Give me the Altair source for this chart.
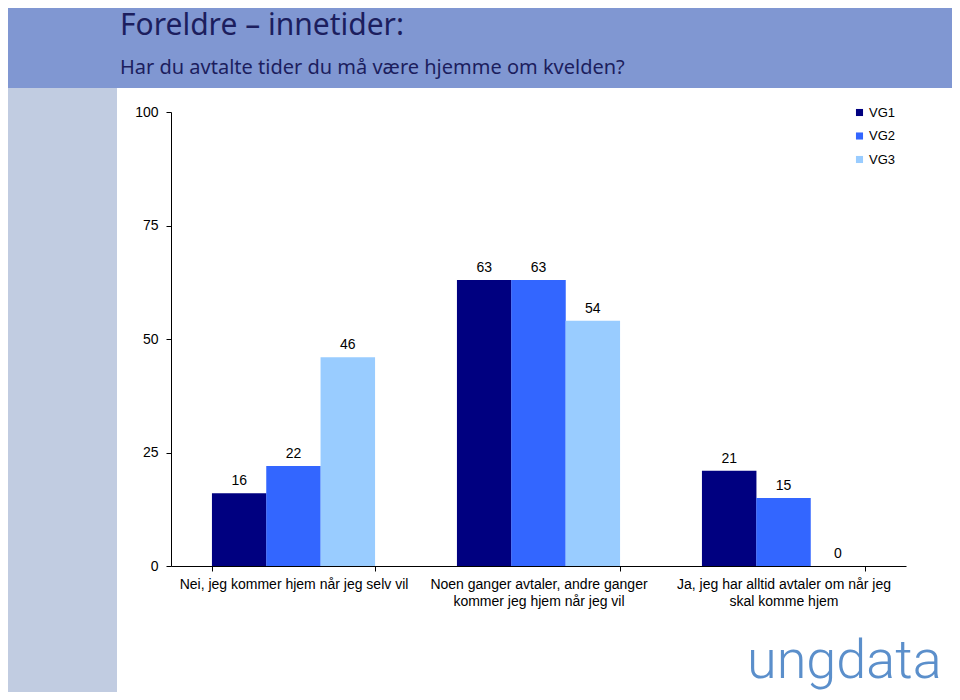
import altair as alt
import pandas as pd

categories = [
    "Nei, jeg kommer hjem når jeg selv vil",
    "Noen ganger avtaler, andre ganger\nkommer jeg hjem når jeg vil",
    "Ja, jeg har alltid avtaler om når jeg\nskal komme hjem",
]
groups = ["VG1", "VG2", "VG3"]
vg1 = [16, 63, 21]
vg2 = [22, 63, 15]
vg3 = [46, 54, 0]
colors = ["#000080", "#3366FF", "#99CCFF"]
y_ticks = [0, 25, 50, 75, 100]
title_text = "Foreldre \u2013 innetider:"
subtitle_text = "Har du avtalte tider du må være hjemme om kvelden?"
logo_text = "ungdata"

rows = []
for g, vals in zip(groups, [vg1, vg2, vg3]):
    for c, v in zip(categories, vals):
        rows.append({"kategori": c, "gruppe": g, "verdi": v})
df = pd.DataFrame(rows)
one = pd.DataFrame({"a": [0]})

x_enc = alt.X(
    "kategori:N",
    sort=categories,
    title=None,
    scale=alt.Scale(paddingInner=0.335, paddingOuter=0.1675),
    axis=alt.Axis(
        labelAngle=0,
        labelLimit=0,
        labelFontSize=14,
        labelFont="Liberation Sans",
        labelColor="#000000",
        labelPadding=6,
        labelLineHeight=17,
        labelBaseline="top",
        labelExpr="split(datum.label, '\\n')",
        tickBand="extent",
        tickSize=5,
        tickColor="#000000",
        domainColor="#000000",
    ),
)
xoff = alt.XOffset("gruppe:N", sort=groups, scale=alt.Scale(paddingInner=0, paddingOuter=0))
y_enc = alt.Y(
    "verdi:Q",
    title=None,
    scale=alt.Scale(domain=[0, 100]),
    axis=alt.Axis(
        values=y_ticks,
        grid=False,
        labelFontSize=14,
        labelFont="Liberation Sans",
        labelColor="#000000",
        labelPadding=8,
        tickSize=5,
        tickColor="#000000",
        domainColor="#000000",
    ),
)

bars = alt.Chart(df).mark_bar(size=54.5).encode(
    x=x_enc,
    xOffset=xoff,
    y=y_enc,
    color=alt.Color(
        "gruppe:N",
        sort=groups,
        scale=alt.Scale(domain=groups, range=colors),
        legend=alt.Legend(
            title=None,
            orient="none",
            legendX=682,
            legendY=-6,
            symbolType="square",
            symbolSize=50,
            symbolStrokeWidth=0,
            labelFontSize=13,
            labelFont="Liberation Sans",
            labelColor="#000000",
            rowPadding=9.5,
            labelOffset=3,
        ),
    ),
)

labels = alt.Chart(df).mark_text(
    baseline="bottom", dy=-5, fontSize=14, font="Liberation Sans", color="#000000"
).encode(
    x=alt.X("kategori:N", sort=categories),
    xOffset=alt.XOffset("gruppe:N", sort=groups),
    y="verdi:Q",
    text="verdi:Q",
)

header = alt.Chart(one).mark_rect(color="#8097D2").encode(
    x=alt.value(-171), x2=alt.value(800), y=alt.value(-112), y2=alt.value(-24)
)
strip = alt.Chart(one).mark_rect(color="#C1CCE1").encode(
    x=alt.value(-171), x2=alt.value(-54), y=alt.value(-24), y2=alt.value(600)
)
title = alt.Chart(one).mark_text(
    align="left", baseline="alphabetic", fontSize=30, font="Noto Sans", color="#1C1E5E"
).encode(x=alt.value(-51), y=alt.value(-77), text=alt.value(title_text))
subtitle = alt.Chart(one).mark_text(
    align="left", baseline="alphabetic", fontSize=20, font="Noto Sans", color="#1C1E5E"
).encode(x=alt.value(-51), y=alt.value(-38), text=alt.value(subtitle_text))
logo = alt.Chart(one).mark_text(
    align="left", baseline="alphabetic", fontSize=54, font="Roboto", fontWeight=300,
    color="#5B8FCB"
).encode(x=alt.value(576), y=alt.value(566), text=alt.value(logo_text))

chart = alt.layer(header, strip, title, subtitle, logo, bars, labels).properties(
    width=735,
    height=454,
    padding={"left": 163, "top": 104, "right": 46, "bottom": 126},
    autosize=alt.AutoSizeParams(type="none"),
    background="#FFFFFF",
).configure_view(stroke=None)

chart.save("out.html", embed_options={"renderer": "svg", "actions": False})
